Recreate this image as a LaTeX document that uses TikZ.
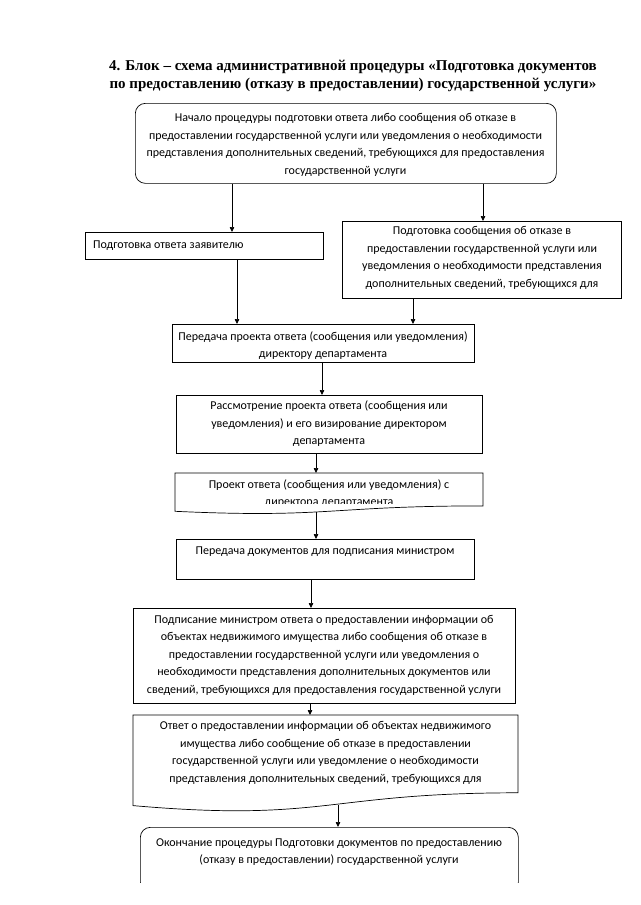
\documentclass[tikz,border=0pt]{standalone}
\usepackage{fontspec}
\setmainfont{Carlito}
\newfontfamily\titlefont{Liberation Serif}
\usetikzlibrary{arrows.meta}
\begin{document}
\begin{tikzpicture}[x=1pt,y=-1pt,
  box/.style={draw, line width=0.7pt, inner sep=0pt, anchor=north west},
  ghost/.style={draw=none, inner sep=0pt, anchor=north west},
  shapeline/.style={line width=0.7pt},
  txt/.style={align=center, font=\fontsize{12}{17.5}\selectfont, inner sep=0pt},
  arr/.style={line width=0.7pt, -{Triangle[length=5pt,width=4.5pt]}}]
\useasboundingbox[fill=white] (0,0) rectangle (640,905);

% title
\node[font=\titlefont\bfseries\fontsize{15}{18}\selectfont, align=center, inner sep=0pt] (title) at (353,76)
  {4. Блок – схема административной процедуры «Подготовка документов\\по предоставлению (отказу в предоставлении) государственной услуги»};

% box 1
\node[box, minimum width=421pt, minimum height=80pt, rounded corners=10pt] (b1) at (135,103) {};
\node[txt] (t1) at (345.5,145) {Начало процедуры подготовки ответа либо сообщения об отказе в\\предоставлении государственной услуги или уведомления о необходимости\\представления дополнительных сведений, требующихся для предоставления\\государственной услуги};

% box 2
\node[box, minimum width=238pt, minimum height=27pt] (b2) at (85,232) {};
\node[txt, anchor=west] (t2) at (93,245.5) {Подготовка ответа заявителю};

% box 3
\node[box, minimum width=279pt, minimum height=77pt] (b3) at (342,221) {};
\node[txt] (t3) at (482,258) {Подготовка сообщения об отказе в\\предоставлении государственной услуги или\\уведомления о необходимости представления\\дополнительных сведений, требующихся для};

% box 4
\node[box, minimum width=302pt, minimum height=38pt] (b4) at (172,324) {};
\node[txt] (t4) at (323,345.5) {Передача проекта ответа (сообщения или уведомления)\\директору департамента};

% box 5
\node[box, minimum width=306pt, minimum height=58pt] (b5) at (176,395) {};
\node[txt] (t5) at (329,424) {Рассмотрение проекта ответа (сообщения или\\уведомления) и его визирование директором\\департамента};

% box 6 (document shape)
\node[ghost, minimum width=308pt, minimum height=39pt] (b6) at (175,473) {};
\draw[shapeline] (175,473) -- (483,473) -- (483,505.9) .. controls (329,505.9) and (329,518.4) .. (175,511.3) -- cycle;
\begin{scope}
  \clip (175,473) rectangle (483,503.5);
  \node[txt] (t6) at (329,493.5) {Проект ответа (сообщения или уведомления) с\\директора департамента};
\end{scope}

% box 7
\node[box, minimum width=298pt, minimum height=40pt] (b7) at (176,539) {};
\node[txt] (t7) at (325,552) {Передача документов для подписания министром};

% box 8
\node[box, minimum width=382pt, minimum height=95pt] (b8) at (133,608) {};
\node[txt] (t8) at (324,655) {Подписание министром ответа о предоставлении информации об\\объектах недвижимого имущества либо сообщения об отказе в\\предоставлении государственной услуги или уведомления о\\необходимости представления дополнительных документов или\\сведений, требующихся для предоставления государственной услуги};

% box 9 (document shape)
\node[ghost, minimum width=385pt, minimum height=90pt] (b9) at (133,715) {};
\draw[shapeline] (133,715) -- (518,715) -- (518,792.8) .. controls (325.5,792.8) and (325.5,822.4) .. (133,805.6) -- cycle;
\node[txt] (t9) at (325.5,753) {Ответ о предоставлении информации об объектах недвижимого\\имущества либо сообщение об отказе в предоставлении\\государственной услуги или уведомление о необходимости\\представления дополнительных сведений, требующихся для};

% box 10 (terminal, cut by page edge)
\begin{scope}
  \clip (0,0) rectangle (640,882);
  \node[box, minimum width=378pt, minimum height=65pt, rounded corners=10pt] (b10) at (140,827) {};
\end{scope}
\node[txt] (t10) at (329,852) {Окончание процедуры Подготовки документов по предоставлению\\(отказу в предоставлении) государственной услуги};

% connectors
\draw[arr] (b1.south -| 232,0) -- (b2.north -| 232,0);
\draw[arr] (b1.south -| 483,0) -- (b3.north -| 483,0);
\draw[arr] (b2.south -| 237,0) -- (b4.north -| 237,0);
\draw[arr] (b3.south -| 413,0) -- (b4.north -| 413,0);
\draw[arr] (b4.south -| 322,0) -- (b5.north -| 322,0);
\draw[arr] (b5.south -| 316,0) -- (b6.north -| 316,0);
\draw[arr] (b6.south -| 316,0) -- (b7.north -| 316,0);
\draw[arr] (b7.south -| 311,0) -- (b8.north -| 311,0);
\draw[arr] (b8.south -| 310,0) -- (b9.north -| 310,0);
\draw[arr] (b9.south -| 338,0) -- (b10.north -| 338,0);
\end{tikzpicture}
\end{document}
